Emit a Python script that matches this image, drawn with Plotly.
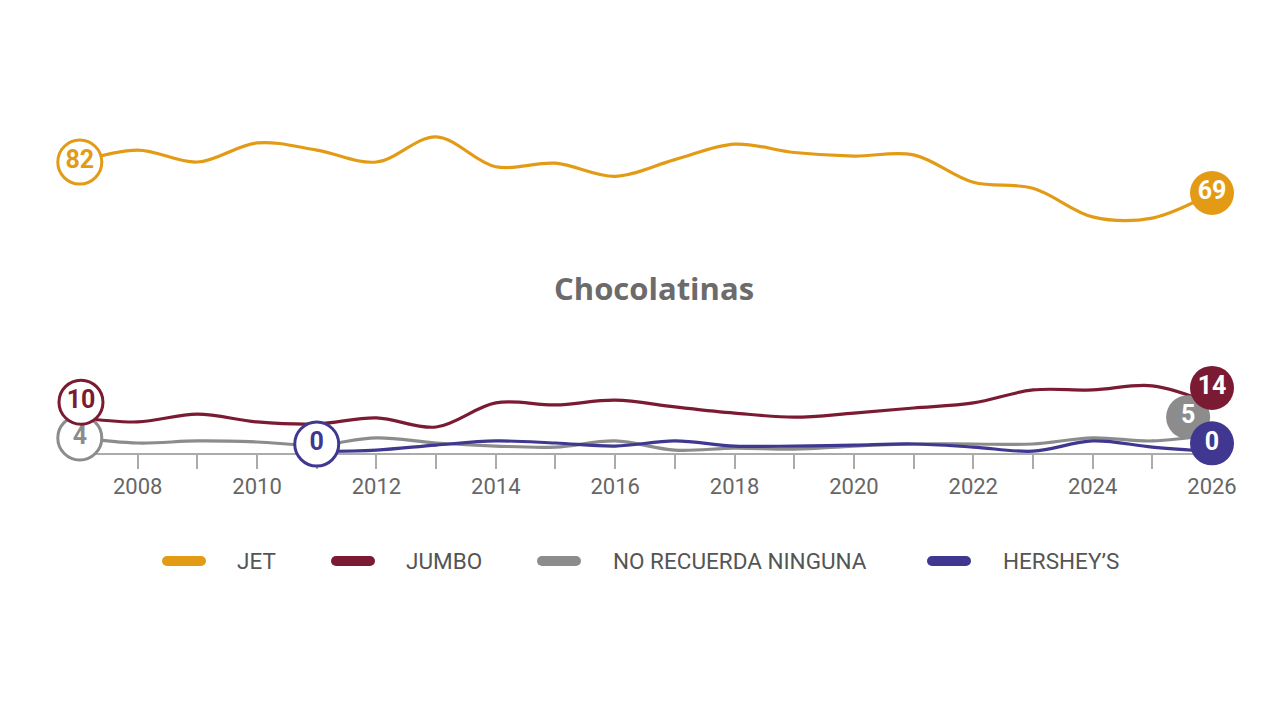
import plotly.graph_objects as go

# ---------------- data ----------------
years = list(range(2007, 2027))
series_names = ["JET", "JUMBO", "NO RECUERDA NINGUNA", "HERSHEY\u2019S"]
jet = [82, 87, 82, 90, 87, 82, 92.5, 80, 81.5, 76, 83, 89.5, 86, 84.5, 85, 73.5, 71, 59, 58.5, 69]
jumbo = [10, 8.7, 11, 8.7, 8.1, 9.9, 7.2, 14.3, 13.7, 15.1, 13.1, 11.3, 10.1, 11.3, 12.8, 14.3, 18.1, 18.1, 19.3, 14]
no_recuerda = [4, 2.5, 3.1, 2.8, 1.9, 4, 2.5, 1.6, 1.3, 3.1, 0.4, 1, 0.7, 1.6, 2.2, 2.2, 2.2, 4, 3.1, 5]
hershey = [None, None, None, None, 0, 0.4, 1.9, 3.1, 2.5, 1.6, 3.1, 1.6, 1.6, 1.9, 2.2, 1.3, 0.1, 3.1, 1.3, 0]
label_years = list(range(2008, 2027, 2))
tick_years = list(range(2008, 2026))
title_text = "Chocolatinas"

# ---------------- style ----------------
colors = ["#E39B16", "#7B1A33", "#8C8C8C", "#3F3790"]
yaxes = ["y", "y2", "y2", "y2"]
xaxes = ["x", "x2", "x2", "x2"]
# label-bubble offsets (collision avoidance) : (dx years, dy axis units)
start_off = [(0.03, 0), (0.05, 4.5), (0.03, 0), (0, 2.2)]
end_off = [(0, 0), (0, 4.7), (-0.4, 5.1), (0, 2.4)]
NUM_FONT = "Roboto, Noto Sans, sans-serif"
TXT_FONT = "Roboto, Noto Sans, sans-serif"

all_series = [jet, jumbo, no_recuerda, hershey]

fig = go.Figure()

# lines
for name, vals, col, xa, ya in zip(series_names, all_series, colors, xaxes, yaxes):
    fig.add_trace(go.Scatter(
        x=years, y=vals, mode="lines", name=name, xaxis=xa, yaxis=ya,
        line=dict(color=col, width=3.2, shape="spline", smoothing=1),
        connectgaps=False, showlegend=False, hoverinfo="skip"))

# bubble labels (draw grey first so others sit on top)
order = [2, 1, 3, 0]
for i in order:
    vals = all_series[i]
    idx = [k for k, v in enumerate(vals) if v is not None]
    i0, i1 = idx[0], idx[-1]
    col = colors[i]
    fig.add_trace(go.Scatter(
        x=[years[i0] + start_off[i][0]], y=[vals[i0] + start_off[i][1]],
        xaxis=xaxes[i], yaxis=yaxes[i], mode="markers+text", text=[f"{vals[i0]:.0f}"],
        textposition="middle center",
        textfont=dict(family=NUM_FONT, size=25, color=col, weight="bold"),
        marker=dict(size=44, color="white", line=dict(color=col, width=3)),
        cliponaxis=False, showlegend=False, hoverinfo="skip"))
    fig.add_trace(go.Scatter(
        x=[years[i1] + end_off[i][0]], y=[vals[i1] + end_off[i][1]],
        xaxis=xaxes[i], yaxis=yaxes[i], mode="markers+text", text=[f"{vals[i1]:.0f}"],
        textposition="middle center",
        textfont=dict(family=NUM_FONT, size=25, color="white", weight="bold"),
        marker=dict(size=44, color=col, line=dict(color=col, width=0)),
        cliponaxis=False, showlegend=False, hoverinfo="skip"))

# ---------------- layout ----------------
L, R, T, B = 78, 68, 100, 267
W, H = 1280, 720
pw = W - L - R
ph = H - T - B

def px_x(p):
    return (p - L) / pw

def px_y(p):
    return (H - B - p) / ph

shapes = []
annotations = []
legend_sym_x = [163, 332, 538, 928]
legend_txt_x = [235, 404, 611, 1001]
legend_y = 561
for name, col, sx, tx in zip(series_names, colors, legend_sym_x, legend_txt_x):
    shapes.append(dict(type="line", xref="paper", yref="paper",
                       x0=px_x(sx + 4), x1=px_x(sx + 38), y0=px_y(legend_y), y1=px_y(legend_y),
                       line=dict(color=col, width=10)))
    for cx in (sx + 4, sx + 38):
        shapes.append(dict(type="circle", xref="paper", yref="paper",
                           xsizemode="pixel", ysizemode="pixel",
                           xanchor=px_x(cx), yanchor=px_y(legend_y),
                           x0=-5, x1=5, y0=-5, y1=5,
                           fillcolor=col, line=dict(width=0)))
    annotations.append(dict(text=name, xref="paper", yref="paper",
                            x=px_x(tx), y=px_y(legend_y), xanchor="left", yanchor="middle",
                            showarrow=False,
                            font=dict(family=TXT_FONT, size=22.5, color="#555555")))

annotations.append(dict(text=f"<b>{title_text}</b>", xref="paper", yref="paper",
                        x=px_x(654), y=px_y(288), xanchor="center", yanchor="middle",
                        showarrow=False,
                        font=dict(family="Open Sans, Noto Sans, sans-serif", size=31, color="#6B6B6B")))

fig.update_layout(
    width=W, height=H,
    margin=dict(l=L, r=R, t=T, b=B),
    paper_bgcolor="white", plot_bgcolor="white",
    showlegend=False,
    xaxis=dict(range=[2007, 2026], anchor="y2", tickvals=label_years,
               ticktext=[str(y) for y in label_years], layer="below traces",
               showgrid=False, zeroline=False, showline=True, linecolor="#ABABAB", linewidth=2,
               ticks="", ticklabelstandoff=13,
               tickfont=dict(family=TXT_FONT, size=22, color="#666666")),
    xaxis2=dict(range=[2007, 2026], anchor="y2", overlaying="x", tickvals=tick_years,
                showticklabels=False, showgrid=False, zeroline=False, showline=False,
                layer="below traces",
                ticks="outside", ticklen=15, tickwidth=1.5, tickcolor="#ABABAB", side="bottom"),
    yaxis=dict(domain=[0.6, 1.0], range=[48.8, 108.0], visible=False),
    yaxis2=dict(domain=[0.0, 0.3], range=[-0.44, 30.7], visible=False),
    shapes=shapes,
    annotations=annotations,
)

fig.write_html("out.html")
